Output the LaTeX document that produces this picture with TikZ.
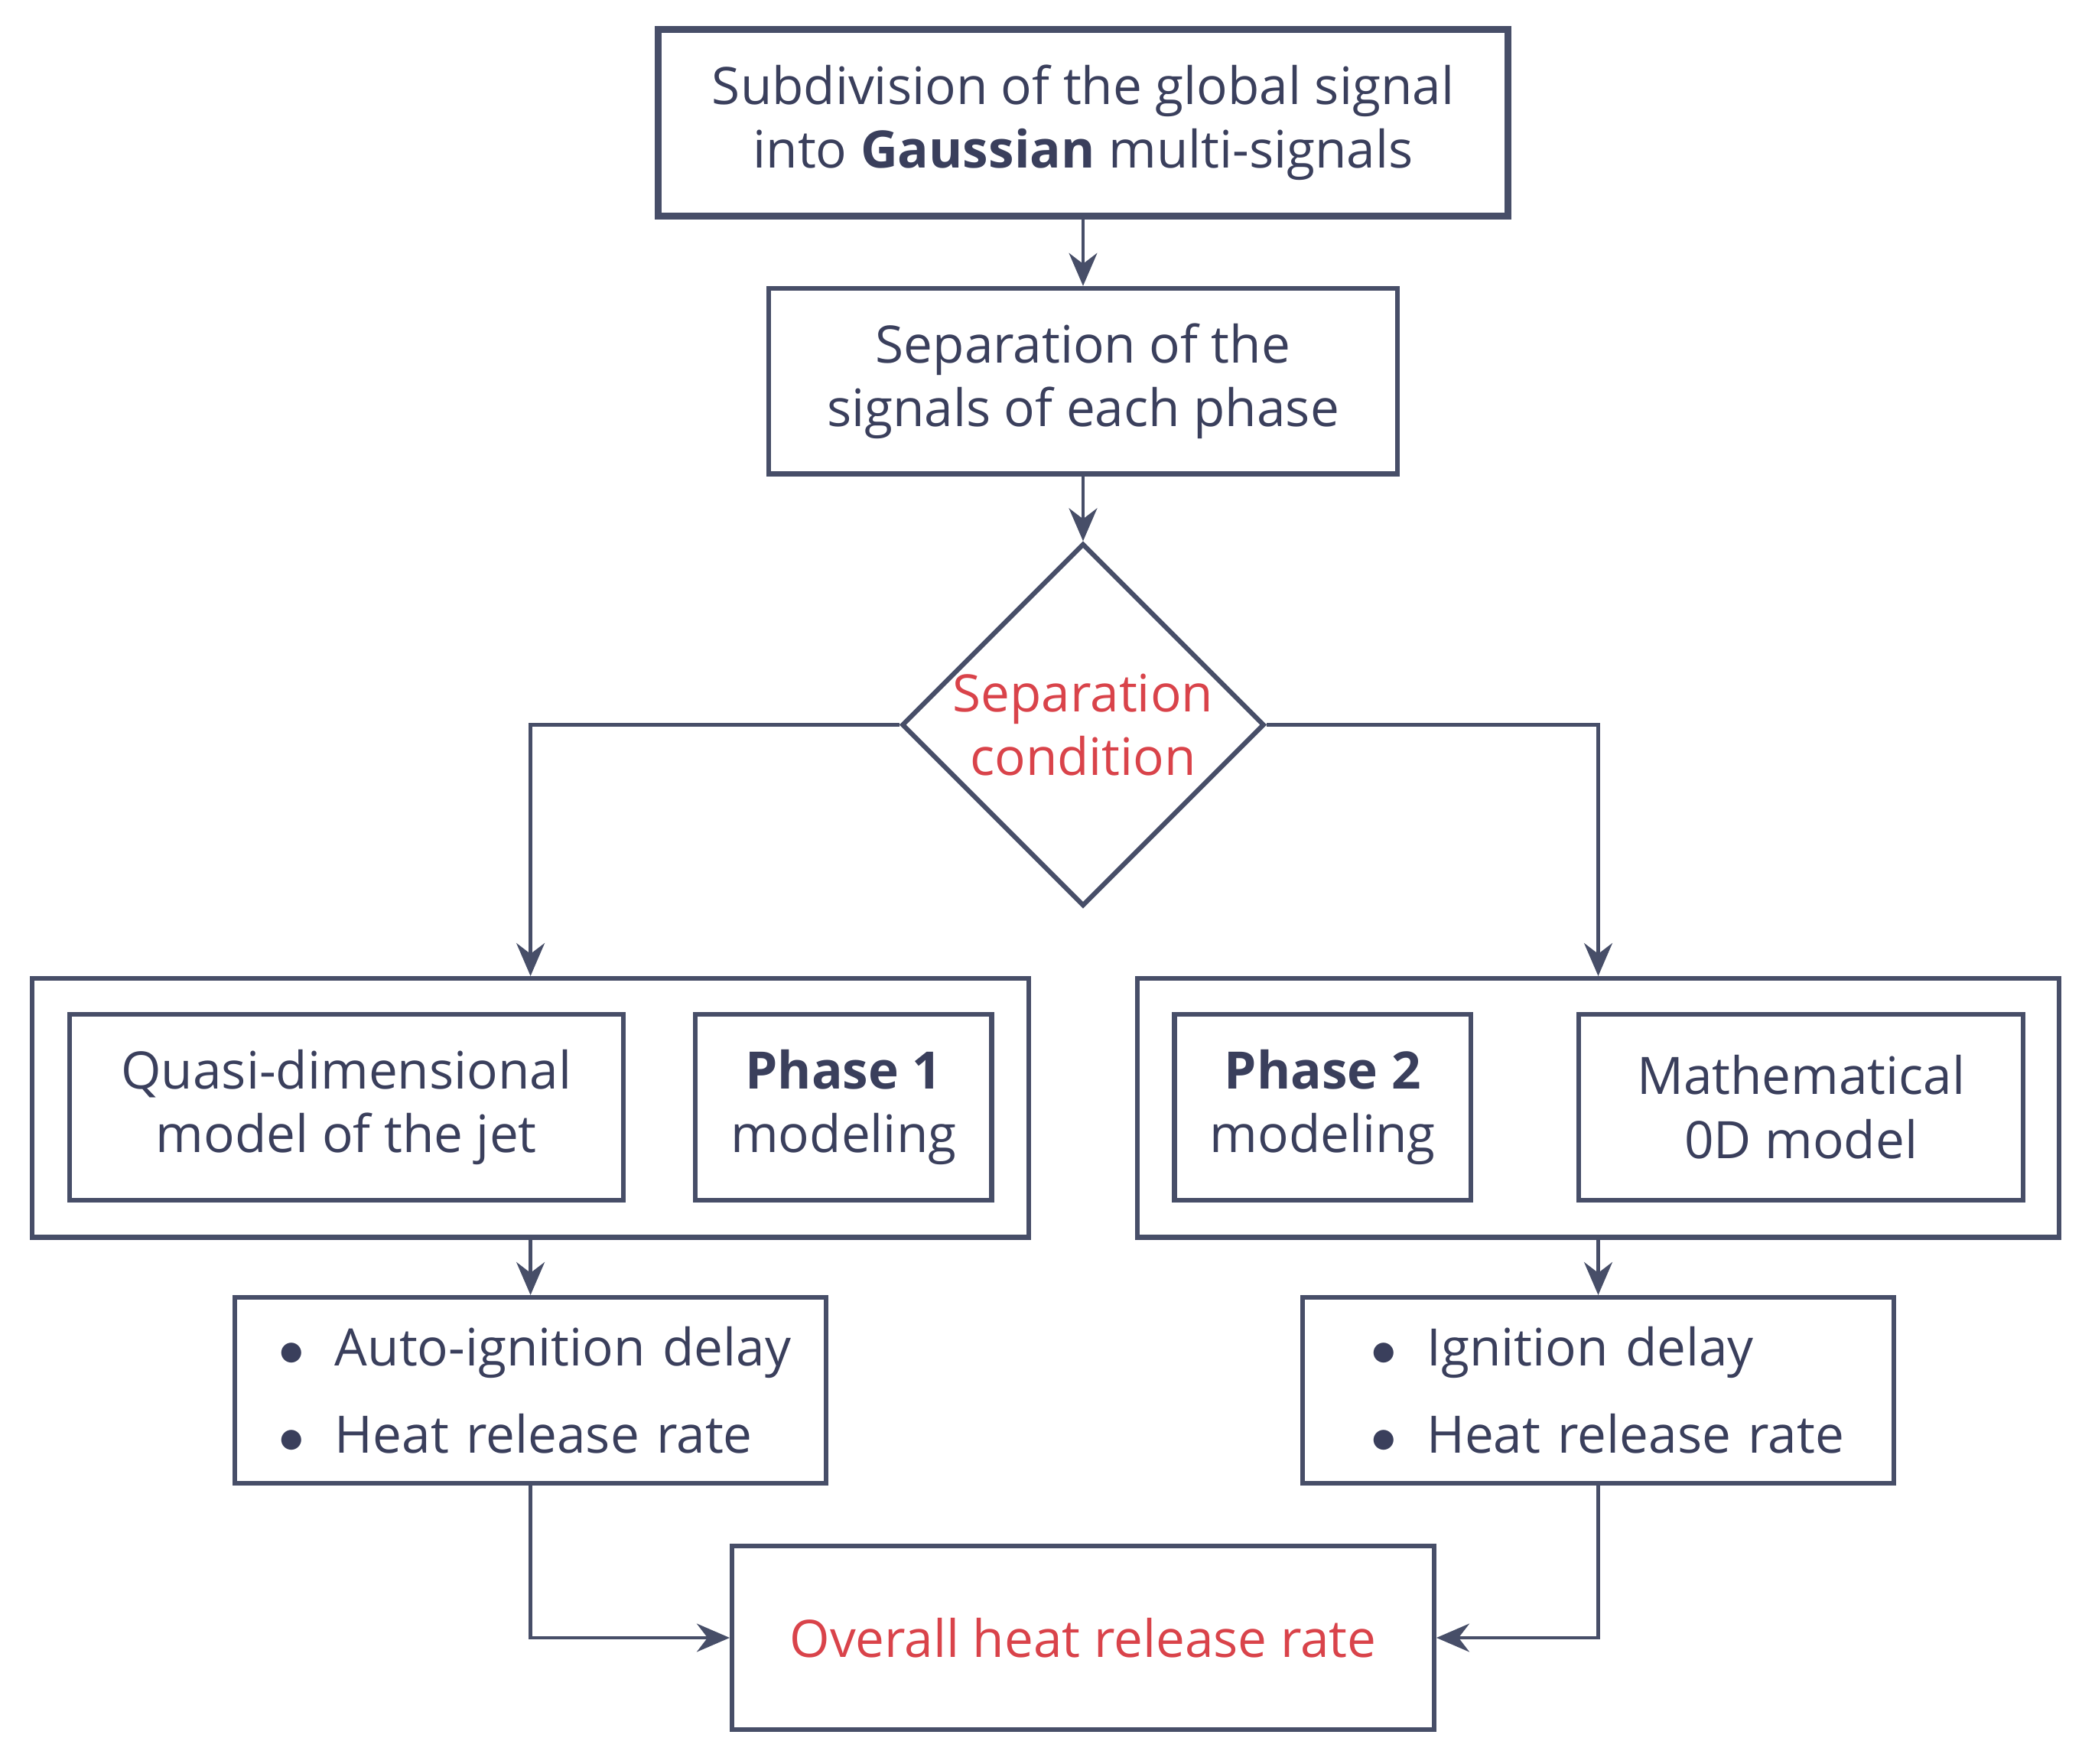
\documentclass[tikz,border=0pt]{standalone}
\usepackage{fontspec}
\setmainfont{Open Sans}
\usetikzlibrary{shapes.geometric,arrows.meta,positioning}
\definecolor{lineC}{HTML}{474E68}
\definecolor{textC}{HTML}{3A3F5C}
\definecolor{redC}{HTML}{D9434A}
\tikzset{
  box/.style={draw=lineC,line width=1pt,text=textC,align=center,inner sep=0pt,
    font=\fontsize{11}{13.6}\selectfont},
  list/.style={box,align=left,text width=4.43cm,minimum height=1.39cm},
  flow/.style={draw=lineC,line width=0.8pt,-{Stealth[length=7pt,width=6pt]}}
}
\newcommand{\itm}{\makebox[0.42cm][l]{$\bullet$}}
\begin{document}
\begin{tikzpicture}
  \useasboundingbox (0,0) rectangle (15.6,13.21);
  % top part
  \node (subdiv) [box,line width=1.5pt,minimum width=6.37cm,minimum height=1.4cm] at (8.115,12.29)
    {Subdivision of the global signal\\into \textbf{Gaussian} multi-signals};
  \node (separ) [box,minimum width=4.71cm,minimum height=1.39cm] at (8.115,10.355)
    {Separation of the\\signals of each phase};
  \node (cond) [box,diamond,minimum width=2.64cm,minimum height=2.64cm,text=redC] at (8.115,7.78)
    {Separation\\condition};
  % phase groups
  \node (grp1) [box,minimum width=7.47cm,minimum height=1.94cm] at (3.975,4.91) {};
  \node (quasi) [box,minimum width=4.15cm,minimum height=1.39cm] at (2.595,4.915)
    {Quasi-dimensional\\model of the jet};
  \node (ph1) [box,minimum width=2.22cm,minimum height=1.39cm] at (6.32,4.915)
    {\textbf{Phase 1}\\modeling};
  \node (grp2) [box,minimum width=6.91cm,minimum height=1.94cm] at (11.975,4.91) {};
  \node (ph2) [box,minimum width=2.22cm,minimum height=1.39cm] at (9.91,4.915)
    {\textbf{Phase 2}\\modeling};
  \node (math) [box,minimum width=3.33cm,minimum height=1.39cm] at (13.495,4.915)
    {Mathematical\\0D model};
  % results
  \node (res1) [list] at (3.975,2.795)
    {\hspace*{0.33cm}\itm Auto-ignition delay\\[5pt]\hspace*{0.33cm}\itm Heat release rate};
  \node (res2) [list] at (11.975,2.795)
    {\hspace*{0.51cm}\itm Ignition delay\\[5pt]\hspace*{0.51cm}\itm Heat release rate};
  \node (overall) [box,text=redC,minimum width=5.26cm,minimum height=1.38cm] at (8.115,0.94)
    {Overall heat release rate};
  % connectors
  \draw[flow] (subdiv) -- (separ);
  \draw[flow] (separ) -- (cond);
  \draw[flow] (cond.west) -| (grp1.north);
  \draw[flow] (cond.east) -| (grp2.north -| res2.north);
  \draw[flow] (grp1) -- (res1);
  \draw[flow] (grp2.south -| res2.north) -- (res2);
  \draw[flow] (res1.south) |- (overall.west);
  \draw[flow] (res2.south) |- (overall.east);
\end{tikzpicture}
\end{document}
